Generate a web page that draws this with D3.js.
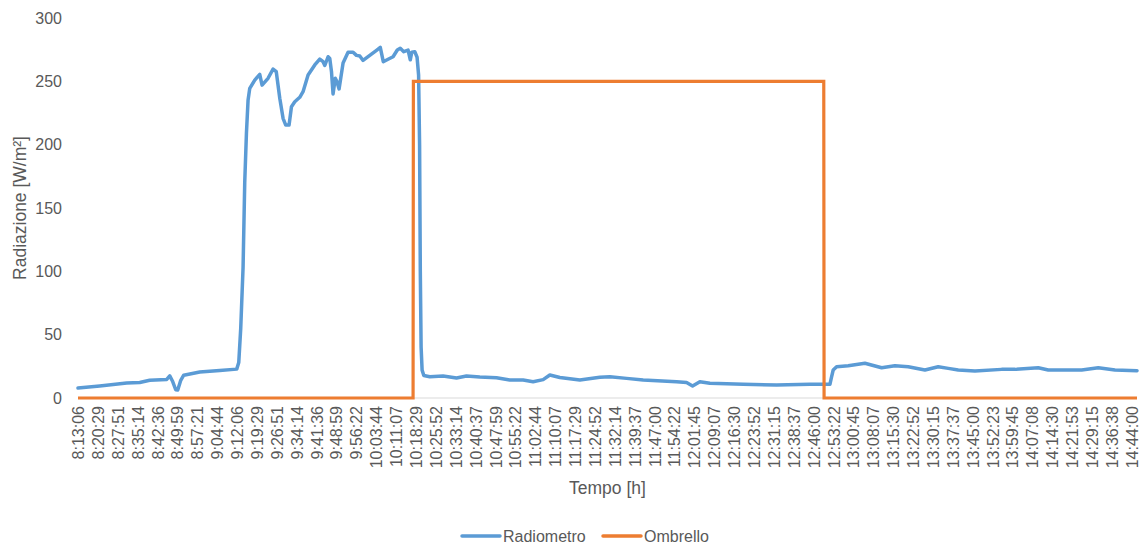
<!DOCTYPE html>
<html>
<head>
<meta charset="utf-8">
<script src="https://cdn.jsdelivr.net/npm/d3@7"></script>
<style>
  html, body { margin: 0; padding: 0; background: #fff; }
  svg { display: block; font-family: "Liberation Sans", Arial, sans-serif; }
</style>
</head>
<body>
<svg id="chart" width="1143" height="544"></svg>
<script>
// Category labels shown on the time axis
const timeLabels = [
  "8:13:06","8:20:29","8:27:51","8:35:14","8:42:36","8:49:59","8:57:21",
  "9:04:44","9:12:06","9:19:29","9:26:51","9:34:14","9:41:36","9:48:59","9:56:22",
  "10:03:44","10:11:07","10:18:29","10:25:52","10:33:14","10:40:37","10:47:59","10:55:22",
  "11:02:44","11:10:07","11:17:29","11:24:52","11:32:14","11:39:37","11:47:00","11:54:22",
  "12:01:45","12:09:07","12:16:30","12:23:52","12:31:15","12:38:37","12:46:00","12:53:22",
  "13:00:45","13:08:07","13:15:30","13:22:52","13:30:15","13:37:37","13:45:00","13:52:23","13:59:45",
  "14:07:08","14:14:30","14:21:53","14:29:15","14:36:38","14:44:00"
];
const timeStart = "8:13:06";
const timeEnd = "14:45:57";

const yTicks = [0, 50, 100, 150, 200, 250, 300];

// Radiometro readings [time, W/m²]
const radiometro = [
  ["8:13:06",7.9],["8:21:09",9.5],["8:31:10",11.8],["8:36:00",12.2],["8:39:42",14.0],
  ["8:46:01",14.7],["8:47:08",17.5],["8:48:14",13.0],["8:49:21",6.5],["8:50:06",6.3],
  ["8:51:13",14.0],["8:52:19",18.0],["8:58:16",20.5],["9:05:41",21.7],["9:11:59",22.8],
  ["9:12:44",28],["9:13:28",55],["9:14:20",103],["9:14:57",170],["9:15:35",209],
  ["9:16:11",235],["9:16:49",244.5],["9:18:40",251],["9:20:31",255.5],["9:21:23",247],
  ["9:23:36",252.4],["9:25:27",259.7],["9:26:39",257.6],["9:27:57",236.6],["9:29:10",220.8],
  ["9:30:10",215.5],["9:31:24",215.5],["9:32:17",230],["9:33:31",233.9],["9:35:22",237.4],
  ["9:36:35",241.8],["9:38:27",255],["9:40:56",262.9],["9:42:47",267.6],["9:44:01",265.5],
  ["9:44:39",262.5],["9:45:52",269.4],["9:46:30",268],["9:47:08",257.6],["9:47:43",240],
  ["9:48:32",252.4],["9:49:06",250],["9:49:57",244],["9:51:26",264.5],["9:53:17",273],
  ["9:55:09",273],["9:56:24",270.5],["9:57:38",270],["9:58:51",266.5],["10:01:20",270.5],
  ["10:03:50",274.5],["10:05:14",276.8],["10:06:21",265.5],["10:08:08",267.4],["10:09:59",269.4],
  ["10:11:33",274.7],["10:12:39",276.1],["10:13:57",273.4],["10:15:33",274.7],["10:16:22",267],
  ["10:16:55",273],["10:18:02",273.4],["10:18:53",269],["10:19:27",255],["10:19:49",200],
  ["10:20:05",100],["10:20:23",40],["10:20:45",22],["10:21:23",17.8],["10:23:36",16.8],
  ["10:28:32",17.4],["10:33:31",15.8],["10:37:13",17.4],["10:42:09",16.6],["10:48:21",16.0],
  ["10:53:17",14.2],["10:58:14",14.2],["11:01:56",12.9],["11:05:39",14.5],["11:08:08",18.2],
  ["11:11:51",16.2],["11:19:16",14.2],["11:26:41",16.3],["11:30:24",16.8],["11:36:36",15.5],
  ["11:42:45",14.2],["11:55:09",12.9],["11:58:51",12.2],["12:01:05",9.5],["12:03:47",12.9],
  ["12:07:30",11.6],["12:19:52",10.8],["12:32:15",10.3],["12:44:36",10.8],["12:52:02",10.8],
  ["12:52:35",16],["12:53:15",22.1],["12:54:31",24.7],["12:58:49",25.5],["13:05:01",27.4],
  ["13:11:13",23.9],["13:16:09",25.5],["13:21:05",24.7],["13:27:17",22.1],["13:32:13",24.7],
  ["13:35:56",23.4],["13:39:38",22.1],["13:45:50",21.3],["13:55:44",22.6],["14:00:41",22.6],
  ["14:09:19",23.9],["14:13:02",22.1],["14:25:26",22.1],["14:31:35",23.9],["14:37:47",22.1],
  ["14:45:57",21.6]
];

// Ombrello (shading) state [time, value]
const ombrello = [
  ["8:13:06",0],["10:17:24",0],["10:17:31",250],["12:49:45",250],["12:49:52",0],["14:45:57",0]
];

const seriesNames = ["Radiometro", "Ombrello"];
const seriesColors = ["#5B9BD5", "#ED7D31"];

const toSec = s => { const p = s.split(":").map(Number); return p[0]*3600 + p[1]*60 + p[2]; };

const svg = d3.select("#chart");
const plot = { left: 78, right: 1137, top: 18, bottom: 398 };
const textColor = "#595959";

const x = d3.scaleLinear().domain([toSec(timeStart), toSec(timeEnd)]).range([plot.left, plot.right]);
const y = d3.scaleLinear().domain([0, 300]).range([plot.bottom, plot.top]);

// Horizontal axis baseline
svg.append("line")
  .attr("x1", plot.left).attr("x2", plot.right)
  .attr("y1", y(0)).attr("y2", y(0))
  .attr("stroke", "#d9d9d9").attr("stroke-width", 1);

// Y axis labels
const yAxis = d3.axisLeft(y).tickValues(yTicks).tickSize(0).tickPadding(0);
const gy = svg.append("g").attr("transform", `translate(${plot.left - 16},0)`).call(yAxis);
gy.select(".domain").remove();
gy.selectAll("text").attr("fill", textColor).attr("font-size", 16)
  .attr("font-family", "Liberation Sans, Arial, sans-serif");

// X axis labels (rotated)
const xAxis = d3.axisBottom(x).tickValues(timeLabels.map(toSec))
  .tickFormat((d, i) => timeLabels[i]).tickSize(0).tickPadding(0);
const gx = svg.append("g").attr("transform", `translate(0,${plot.bottom})`).call(xAxis);
gx.select(".domain").remove();
gx.selectAll("text")
  .attr("fill", textColor).attr("font-size", 16)
  .attr("font-family", "Liberation Sans, Arial, sans-serif")
  .attr("text-anchor", "end")
  .attr("dy", null).attr("y", null)
  .attr("transform", "translate(0,8) rotate(-90)")
  .attr("dominant-baseline", "central");

// Axis titles
svg.append("text")
  .attr("transform", `translate(20,${(plot.top + plot.bottom) / 2}) rotate(-90)`)
  .attr("text-anchor", "middle").attr("dominant-baseline", "central")
  .attr("fill", textColor).attr("font-size", 17.5)
  .text("Radiazione [W/m²]");

svg.append("text")
  .attr("x", (plot.left + plot.right) / 2).attr("y", 488)
  .attr("text-anchor", "middle").attr("dominant-baseline", "central")
  .attr("fill", textColor).attr("font-size", 17.5)
  .text("Tempo [h]");

// Series lines
const line = d3.line().x(d => x(toSec(d[0]))).y(d => y(d[1]));

svg.append("path").datum(radiometro)
  .attr("d", line).attr("fill", "none")
  .attr("stroke", seriesColors[0]).attr("stroke-width", 3.5)
  .attr("stroke-linejoin", "round").attr("stroke-linecap", "round");

svg.append("path").datum(ombrello)
  .attr("d", line).attr("fill", "none")
  .attr("stroke", seriesColors[1]).attr("stroke-width", 3.2)
  .attr("stroke-linejoin", "miter");

// Legend
const legendItems = [
  { name: seriesNames[0], color: seriesColors[0], x: 462 },
  { name: seriesNames[1], color: seriesColors[1], x: 603 }
];
const lg = svg.append("g").selectAll("g").data(legendItems).join("g")
  .attr("transform", d => `translate(${d.x},536)`);
lg.append("line").attr("x1", 0).attr("x2", 38).attr("y1", 0).attr("y2", 0)
  .attr("stroke", d => d.color).attr("stroke-width", 3.5).attr("stroke-linecap", "round");
lg.append("text").attr("x", 41).attr("y", 0)
  .attr("dominant-baseline", "central").attr("fill", textColor).attr("font-size", 16)
  .text(d => d.name);
</script>
</body>
</html>
